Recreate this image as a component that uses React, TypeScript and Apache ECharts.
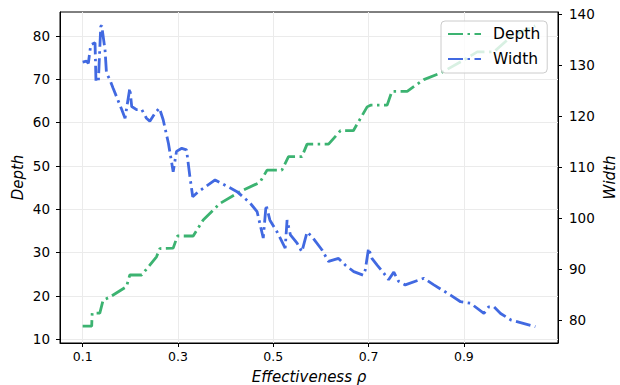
import React, { useEffect, useRef } from "react";
import * as echarts from "echarts";

const depthX = [0.1, 0.119, 0.12, 0.136, 0.143, 0.157, 0.192, 0.199, 0.224, 0.255, 0.262, 0.29, 0.299, 0.332, 0.353, 0.388, 0.43, 0.472, 0.479, 0.487, 0.518, 0.532, 0.56, 0.571, 0.616, 0.641, 0.668, 0.697, 0.704, 0.739, 0.749, 0.781, 0.816, 0.851, 0.9, 0.928, 0.963, 0.999, 1.05];
const depthY = [13.0, 13.0, 16.0, 16.0, 19.0, 19.7, 22.1, 24.8, 24.8, 29.0, 30.9, 31.0, 33.8, 33.8, 37.5, 41.3, 44.0, 46.2, 47.5, 49.0, 49.0, 52.1, 52.1, 55.0, 55.0, 58.1, 58.1, 63.6, 64.0, 64.0, 67.2, 67.2, 69.9, 71.4, 74.4, 76.3, 76.3, 79.8, 82.3];

const widthX = [0.1, 0.108, 0.112, 0.117, 0.126, 0.128, 0.133, 0.138, 0.14, 0.147, 0.15, 0.157, 0.164, 0.182, 0.189, 0.199, 0.203, 0.213, 0.224, 0.234, 0.241, 0.252, 0.261, 0.269, 0.28, 0.287, 0.29, 0.297, 0.308, 0.318, 0.325, 0.331, 0.343, 0.378, 0.424, 0.451, 0.466, 0.479, 0.485, 0.493, 0.508, 0.525, 0.529, 0.536, 0.55, 0.56, 0.571, 0.581, 0.602, 0.616, 0.637, 0.651, 0.669, 0.689, 0.693, 0.7, 0.707, 0.718, 0.732, 0.742, 0.753, 0.763, 0.777, 0.816, 0.837, 0.872, 0.893, 0.914, 0.942, 0.952, 0.963, 0.977, 0.999, 1.05];
const widthY = [130.6, 130.8, 130.4, 134.0, 134.4, 126.8, 126.8, 137.6, 137.8, 133.0, 128.5, 127.2, 125.5, 121.3, 119.6, 125.5, 121.9, 121.3, 121.3, 119.6, 119.0, 120.6, 121.6, 119.3, 114.7, 110.8, 109.1, 113.1, 113.7, 113.4, 108.2, 104.2, 105.2, 107.5, 105.2, 103.0, 101.3, 96.1, 102.6, 99.6, 97.3, 94.1, 99.6, 96.7, 95.1, 93.4, 97.3, 96.4, 93.8, 91.5, 92.1, 90.8, 89.5, 88.8, 89.8, 94.1, 92.1, 90.8, 89.2, 87.9, 89.4, 87.6, 86.9, 88.2, 86.9, 84.9, 83.6, 83.3, 81.3, 82.6, 82.6, 81.3, 80.0, 78.7];

const xTicks = [0.1, 0.3, 0.5, 0.7, 0.9];
const depthTicks = [10, 20, 30, 40, 50, 60, 70, 80];
const widthTicks = [80, 90, 100, 110, 120, 130, 140];

const FONT = "DejaVu Sans";

export default function App() {
  const ref = useRef<HTMLDivElement>(null);
  useEffect(() => {
    if (!ref.current) return;
    const chart = echarts.init(ref.current, null, { renderer: "svg" });
    const dash = [15, 4.5, 2.5, 4.5];
    chart.setOption({
      animation: false,
      backgroundColor: "#ffffff",
      textStyle: { fontFamily: FONT },
      grid: {
        left: 60,
        right: 62,
        top: 12,
        bottom: 42,
        outerBoundsMode: "none",
        containLabel: false,
        show: true,
        borderColor: "#000",
        borderWidth: 1,
        backgroundColor: "transparent",
      },
      legend: {
        data: ["Depth", "Width"],
        orient: "vertical",
        left: 441,
        top: 21,
        itemWidth: 33,
        itemHeight: 14,
        itemGap: 9,
        padding: [5, 7, 6, 6],
        backgroundColor: "rgba(255,255,255,0.8)",
        borderColor: "#cccccc",
        borderWidth: 1,
        borderRadius: 4,
        itemStyle: { opacity: 0, borderWidth: 0 },
        textStyle: { fontSize: 15.5, color: "#000", fontFamily: FONT, padding: [0, 0, 0, 7] },
      },
      xAxis: {
        type: "value",
        min: 0.0525,
        max: 1.0975,
        name: "Effectiveness ρ",
        nameLocation: "middle",
        nameGap: 26,
        nameMoveOverlap: false,
        nameTextStyle: { fontSize: 15, fontStyle: "italic", color: "#000", fontFamily: FONT },
        axisLine: { show: true, lineStyle: { color: "#000", width: 1 } },
        axisTick: { show: true, length: 4, customValues: xTicks, lineStyle: { color: "#000" } },
        axisLabel: {
          customValues: xTicks,
          margin: 7,
          fontSize: 12.5,
          color: "#000",
          fontFamily: FONT,
          formatter: (v: number) => v.toFixed(1),
        },
        splitLine: { show: true, lineStyle: { color: "#ebebeb", width: 1 } },
      },
      yAxis: [
        {
          type: "value",
          position: "left",
          min: 9.1,
          max: 85.5,
          name: "Depth",
          nameLocation: "middle",
          nameGap: 35,
          nameMoveOverlap: false,
          nameTextStyle: { fontSize: 15, fontStyle: "italic", color: "#000", fontFamily: FONT },
          axisLine: { show: true, lineStyle: { color: "#000", width: 1 } },
          axisTick: { show: true, length: 4, customValues: depthTicks, lineStyle: { color: "#000" } },
          axisLabel: { customValues: depthTicks, margin: 10, fontSize: 13.5, color: "#000", fontFamily: FONT },
          splitLine: { show: true, lineStyle: { color: "#ebebeb", width: 1 } },
        },
        {
          type: "value",
          position: "right",
          min: 75.5,
          max: 140.45,
          name: "Width",
          nameLocation: "middle",
          nameGap: 44,
          nameMoveOverlap: false,
          nameTextStyle: { fontSize: 15, fontStyle: "italic", color: "#000", fontFamily: FONT },
          axisLine: { show: true, lineStyle: { color: "#000", width: 1 } },
          axisTick: { show: true, length: 4, customValues: widthTicks, lineStyle: { color: "#000" } },
          axisLabel: { customValues: widthTicks, margin: 11, fontSize: 13.5, color: "#000", fontFamily: FONT },
          splitLine: { show: false },
        },
      ],
      series: [
        {
          name: "Depth",
          type: "line",
          yAxisIndex: 0,
          showSymbol: false,
          symbol: "none",
          data: depthX.map((x, i) => [x, depthY[i]]),
          color: "#3cb371",
          lineStyle: { color: "#3cb371", width: 2.8, type: dash },
        },
        {
          name: "Width",
          type: "line",
          yAxisIndex: 1,
          showSymbol: false,
          symbol: "none",
          data: widthX.map((x, i) => [x, widthY[i]]),
          color: "#4169e1",
          lineStyle: { color: "#4169e1", width: 2.8, type: dash },
        },
      ],
    });
    return () => chart.dispose();
  }, []);
  return (
    <div
      ref={ref}
      style={{ position: "fixed", left: 0, top: 0, width: 620, height: 385 }}
    />
  );
}
